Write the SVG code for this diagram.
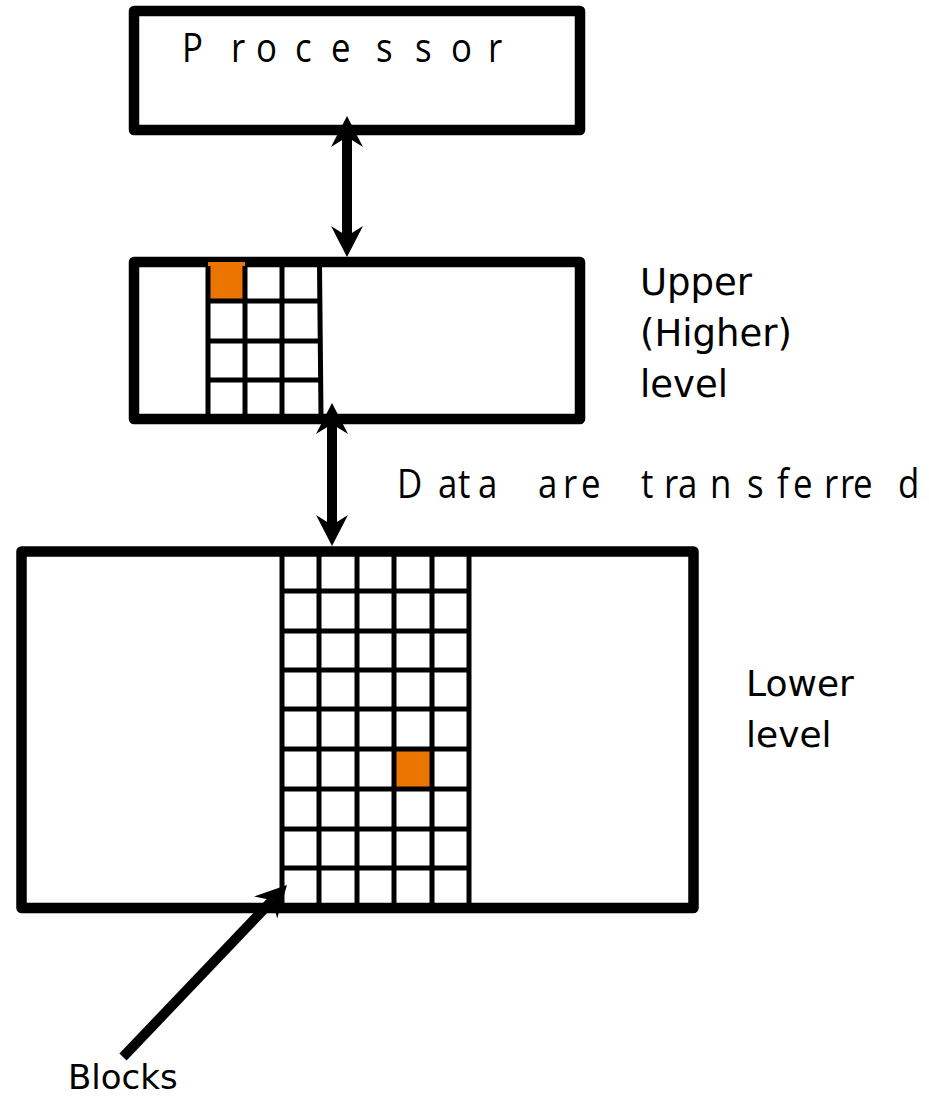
<svg xmlns="http://www.w3.org/2000/svg" width="929" height="1098" viewBox="0 0 929 1098">
  <style>
    .box { fill: #ffffff; stroke: #000000; stroke-width: 10.5; stroke-linejoin: round; }
    .grid { stroke: #000000; stroke-width: 5; fill: none; }
    .hit { fill: #EC7400; }
    .spaced { font-family: "Open Sans", "Liberation Sans", sans-serif; font-size: 40px; fill: #000000; }
    .label { font-family: "DejaVu Sans", "Liberation Sans", sans-serif; fill: #000000; }
    .shaft { stroke: #000000; stroke-width: 10; fill: none; }
  </style>
  <defs>
    <marker id="stealth" markerUnits="userSpaceOnUse" viewBox="-32 -17 33 34" markerWidth="33" markerHeight="34" refX="-21" refY="0" orient="auto-start-reverse" overflow="visible">
      <path d="M0,0 L-31,-16 L-21,0 L-31,16 Z" fill="#000000"/>
    </marker>
  </defs>

  <!-- processor -->
  <g id="processor">
    <rect class="box" x="134" y="11" width="446" height="119"/>
    <!-- narrowed, widely spaced lettering -->
    <text class="spaced" transform="scale(0.87,1)" y="62" x="209.2 265.5 294.3 339.1 380.5 432.2 477 518.4 560.9">Processor</text>
  </g>

  <!-- upper (higher) level memory -->
  <g id="upper-level">
    <rect class="box" x="134" y="262" width="446" height="157"/>
    <rect class="hit" x="208" y="262" width="37" height="39"/>
    <path class="grid" d="M208,266 V415 M245,266 V415 M282,266 V415 M319.5,266 L321,415 M208,301 H320 M208,341 H320 M208,380 H320.5"/>
    <text class="label" font-size="37" x="640" y="295">Upper</text>
    <text class="label" font-size="37" x="640" y="346">(Higher)</text>
    <text class="label" font-size="37" x="640" y="397">level</text>
  </g>

  <!-- lower level memory -->
  <g id="lower-level">
    <rect class="box" x="21.5" y="551.5" width="672" height="356.5"/>
    <rect class="hit" x="394" y="749" width="38" height="40"/>
    <path class="grid" d="M282,556 V904 M319,556 V904 M357,556 V904 M394,556 V904 M432,556 V904 M469,556 V904 M282,591 H469 M282,631 H469 M282,670 H469 M282,709 H469 M282,749 H469 M282,789 H469 M282,829 H469 M282,868 H469"/>
    <text class="label" font-size="36" x="746" y="696">Lower</text>
    <text class="label" font-size="36" x="746" y="747">level</text>
  </g>

  <!-- connectors -->
  <g id="connectors">
    <line class="shaft" x1="347" y1="137" x2="347" y2="236" marker-start="url(#stealth)" marker-end="url(#stealth)"/>
    <line class="shaft" x1="332" y1="424" x2="332" y2="525" marker-start="url(#stealth)" marker-end="url(#stealth)"/>
    <line class="shaft" stroke-width="9" x1="123" y1="1057" x2="272.5" y2="900.2" marker-end="url(#stealth)"/>
  </g>

  <g id="transfer-label">
    <text class="spaced" transform="scale(0.87,1)" y="498" x="456.3 503.4 526.4 549.4 586.2 618.4 647.1 667.8 712.6 736.8 763.2 779.3 816.1 858.6 893.1 911.5 947.1 965.5 980.5 1032.2">Data are transferred</text>
  </g>

  <g id="blocks-label">
    <text class="label" font-size="34" x="68" y="1089">Blocks</text>
  </g>
</svg>
